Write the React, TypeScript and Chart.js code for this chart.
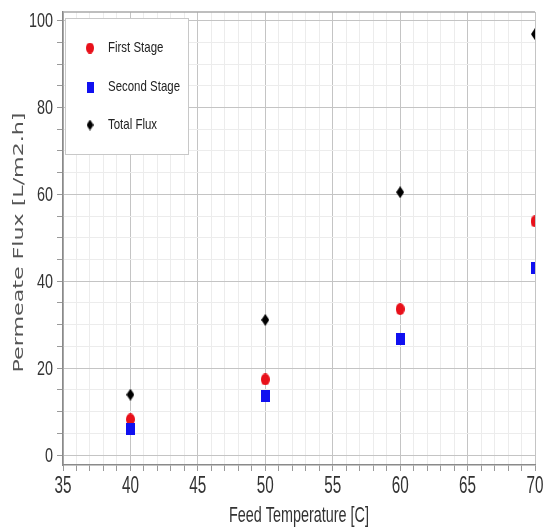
import React, { useEffect, useRef } from "react";
import { Chart, registerables } from "chart.js";

Chart.register(...registerables);

const temperatures = [40, 50, 60, 70];
const firstStage = [8.2, 17.4, 33.6, 53.8];
const secondStage = [6.0, 13.5, 26.6, 43.0];
const totalFlux = [13.9, 31.1, 60.5, 96.9];
const seriesNames = ["First Stage", "Second Stage", "Total Flux"];
const xTickValues = [35, 40, 45, 50, 55, 60, 65, 70];
const yTickValues = [0, 20, 40, 60, 80, 100];
const xTitle = "Feed Temperature [C]";
const yTitle = "Permeate Flux [L/m2.h]";

function makeMarker(kind: string, color: string, w: number, h: number) {
  const c = document.createElement("canvas");
  c.width = w;
  c.height = h;
  const ctx = c.getContext("2d")!;
  ctx.fillStyle = color;
  ctx.beginPath();
  if (kind === "circle") {
    ctx.ellipse(w / 2, h / 2, w / 2, h / 2, 0, 0, Math.PI * 2);
  } else if (kind === "square") {
    ctx.rect(0, 0, w, h);
  } else {
    ctx.moveTo(w / 2, 0);
    ctx.lineTo(w, h / 2);
    ctx.lineTo(w / 2, h);
    ctx.lineTo(0, h / 2);
    ctx.closePath();
  }
  ctx.fill();
  return c;
}

const SANS = "'Liberation Sans', Arial, sans-serif";

export default function App() {
  const ref = useRef<HTMLCanvasElement>(null);
  useEffect(() => {
    document.body.style.margin = "0";
    const red = "#e8101a";
    const blue = "#1010f0";
    const black = "#000000";
    const mRed = makeMarker("circle", red, 9, 12);
    const mBlue = makeMarker("square", blue, 9, 12);
    const mBlack = makeMarker("diamond", black, 8, 12);
    const lRed = makeMarker("circle", red, 8, 11);
    const lBlue = makeMarker("square", blue, 7, 11);
    const lBlack = makeMarker("diamond", black, 7, 11);

    const squeezed = (ctx: any, text: string, x: number, y: number, sx: number, align: string) => {
      ctx.save();
      ctx.translate(x, y);
      ctx.scale(sx, 1);
      ctx.textAlign = align;
      ctx.fillText(text, 0, 0);
      ctx.restore();
    };

    const textPlugin = {
      id: "textAndLegend",
      afterDraw(chart: any) {
        const ctx = chart.ctx;
        const a = chart.chartArea;
        const xs = chart.scales.x;
        const ys = chart.scales.y;
        ctx.save();
        // top frame line
        ctx.strokeStyle = "#a8a8a8";
        ctx.lineWidth = 1.5;
        ctx.beginPath();
        ctx.moveTo(a.left, a.top);
        ctx.lineTo(a.right, a.top);
        ctx.stroke();

        ctx.fillStyle = "#333";
        ctx.textBaseline = "middle";
        // y tick labels
        ctx.font = "21px " + SANS;
        const dy = ctx.measureText("0").width;
        const sy = 8 / dy;
        for (const v of yTickValues) {
          squeezed(ctx, String(v), a.left - 10, ys.getPixelForValue(v) + 1, sy, "right");
        }
        // x tick labels
        ctx.font = "23px " + SANS;
        const dx = ctx.measureText("0").width;
        const sxx = 8.5 / dx;
        for (const v of xTickValues) {
          squeezed(ctx, String(v), xs.getPixelForValue(v), a.bottom + 22, sxx, "center");
        }
        // x title
        ctx.font = "22px " + SANS;
        const tw = ctx.measureText(xTitle).width;
        squeezed(ctx, xTitle, (a.left + a.right) / 2, a.bottom + 51, 140 / tw, "center");
        // y title (rotated, compressed across the glyph height)
        ctx.font = "22px 'DejaVu Sans', Verdana, sans-serif";
        const yw = ctx.measureText(yTitle).width;
        ctx.save();
        ctx.translate(19, (a.top + a.bottom) / 2 + 4);
        ctx.rotate(-Math.PI / 2);
        ctx.scale(260 / yw, 0.62);
        ctx.fillStyle = "#555";
        ctx.textAlign = "center";
        ctx.fillText(yTitle, 0, 0);
        ctx.restore();

        // legend
        const x0 = a.left + 2;
        const y0 = a.top + 6;
        ctx.fillStyle = "#ffffff";
        ctx.fillRect(x0, y0, 123, 136);
        ctx.strokeStyle = "#c8c8c8";
        ctx.lineWidth = 1;
        ctx.strokeRect(x0 + 0.5, y0 + 0.5, 123, 136);
        const markers = [lRed, lBlue, lBlack];
        const rows = [a.top + 36, a.top + 75, a.top + 113];
        ctx.font = "15px " + SANS;
        const lw = ctx.measureText(seriesNames[1]).width;
        const ls = 72 / lw;
        ctx.fillStyle = "#222";
        for (let i = 0; i < 3; i++) {
          const m = markers[i];
          const cy = rows[i];
          ctx.drawImage(m, a.left + 27 - m.width / 2, cy - m.height / 2);
          squeezed(ctx, seriesNames[i], a.left + 45, cy, ls, "left");
        }
        ctx.restore();
      },
    };

    const toPts = (arr: number[]) => arr.map((v, i) => ({ x: temperatures[i], y: v }));

    const chart = new Chart(ref.current!, {
      type: "scatter",
      data: {
        datasets: [
          { label: seriesNames[2], data: toPts(totalFlux), pointStyle: mBlack as any, backgroundColor: black, borderColor: black },
          { label: seriesNames[1], data: toPts(secondStage), pointStyle: mBlue as any, backgroundColor: blue, borderColor: blue },
          { label: seriesNames[0], data: toPts(firstStage), pointStyle: mRed as any, backgroundColor: red, borderColor: red },
        ],
      },
      options: {
        animation: false,
        responsive: false,
        maintainAspectRatio: false,
        layout: { padding: { top: 12, right: 10, left: 0, bottom: 0 } },
        plugins: { legend: { display: false }, tooltip: { enabled: false } },
        scales: {
          x: {
            type: "linear",
            min: 35,
            max: 70,
            afterBuildTicks: (s: any) => {
              const t = [];
              for (let v = 35; v <= 70; v++) t.push({ value: v });
              s.ticks = t;
            },
            afterFit: (s: any) => {
              s.height = 66;
            },
            ticks: { display: false, autoSkip: false },
            grid: {
              color: (c: any) => (c.tick && c.tick.value % 5 === 0 ? "#c4c4c4" : "#ececec"),
              tickColor: "#9a9a9a",
              tickLength: 6,
              drawTicks: true,
            },
            border: { color: "#8a8a8a", width: 1.5 },
          },
          y: {
            type: "linear",
            min: -2.3,
            max: 102,
            afterBuildTicks: (s: any) => {
              const t = [];
              for (let v = 0; v <= 100; v += 5) t.push({ value: v });
              s.ticks = t;
            },
            afterFit: (s: any) => {
              s.width = 63;
            },
            ticks: { display: false, autoSkip: false },
            grid: {
              color: (c: any) => (c.tick && c.tick.value % 20 === 0 ? "#c4c4c4" : "#ececec"),
              tickColor: "#9a9a9a",
              tickLength: 6,
            },
            border: { color: "#8a8a8a", width: 1.5 },
          },
        },
      },
      plugins: [textPlugin],
    });
    return () => chart.destroy();
  }, []);
  return <canvas ref={ref} width={545} height={531} style={{ display: "block" }} />;
}
